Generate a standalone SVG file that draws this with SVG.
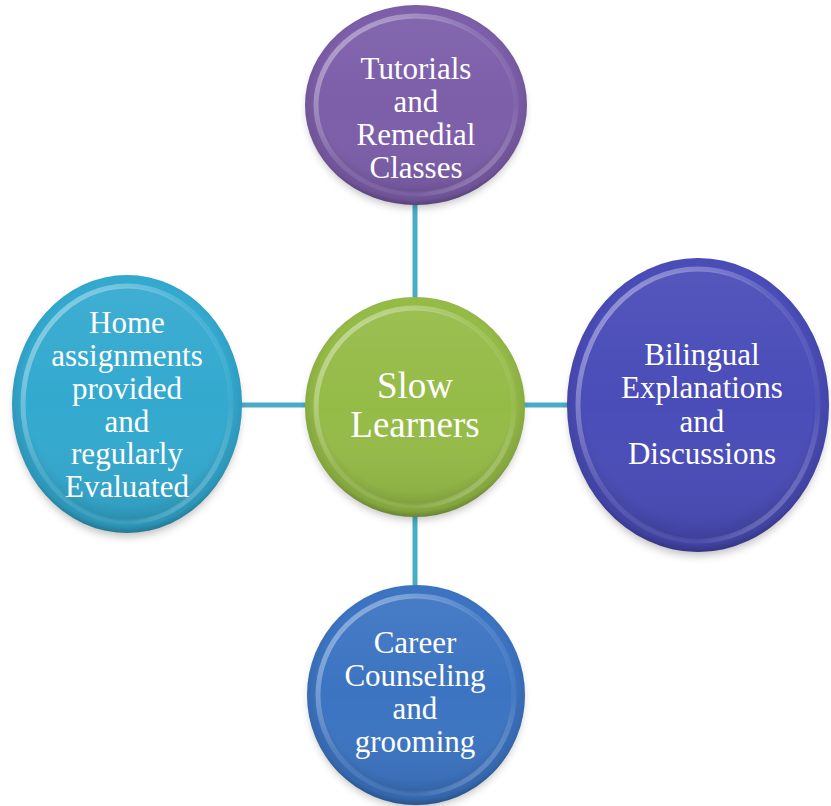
<svg xmlns="http://www.w3.org/2000/svg" width="831" height="806" viewBox="0 0 831 806">
<style>
.lbl{font-family:"Liberation Serif","Times New Roman",serif;fill:#ffffff;text-anchor:middle;font-size:31px}
.big{font-size:37px}
.conn{stroke:#4bacc6;stroke-width:5;fill:none}
.edge{fill:url(#edgeShade)}
.rim{fill:none;stroke:url(#rimLight);stroke-width:5}
.inner{fill:url(#innerShade)}
.shadow{fill:#000;opacity:0.28;filter:url(#blur)}
</style>
<defs>
<filter id="blur" x="-20%" y="-20%" width="140%" height="140%"><feGaussianBlur stdDeviation="5"/></filter>
<radialGradient id="edgeShade" cx="0.5" cy="0.45" r="0.55">
<stop offset="0.8" stop-color="#000" stop-opacity="0"/>
<stop offset="0.95" stop-color="#000" stop-opacity="0.12"/>
<stop offset="1" stop-color="#000" stop-opacity="0.3"/>
</radialGradient>
<linearGradient id="rimLight" x1="0" y1="0" x2="1" y2="1">
<stop offset="0" stop-color="#fff" stop-opacity="0.5"/>
<stop offset="0.45" stop-color="#fff" stop-opacity="0.12"/>
<stop offset="0.75" stop-color="#fff" stop-opacity="0.05"/>
<stop offset="1" stop-color="#fff" stop-opacity="0.4"/>
</linearGradient>
<linearGradient id="innerShade" x1="0" y1="0" x2="0" y2="1">
<stop offset="0" stop-color="#fff" stop-opacity="0.06"/>
<stop offset="0.5" stop-color="#fff" stop-opacity="0"/>
<stop offset="1" stop-color="#000" stop-opacity="0.08"/>
</linearGradient>
</defs>
<rect width="831" height="806" fill="#ffffff"/>
<g id="connectors">
<line class="conn" x1="415" y1="200" x2="415" y2="300"/>
<line class="conn" x1="415" y1="515" x2="415" y2="590"/>
<line class="conn" x1="238" y1="405" x2="308" y2="405"/>
<line class="conn" x1="522" y1="405" x2="572" y2="405"/>
</g>
<g id="n-top">
<ellipse class="shadow" cx="416" cy="110" rx="108" ry="97"/>
<ellipse cx="416" cy="105" rx="111" ry="100" fill="#7c5ea9"/>
<ellipse class="edge" cx="416" cy="105" rx="111" ry="100"/>
<ellipse class="inner" cx="416" cy="105" rx="99" ry="88"/>
<ellipse class="rim" cx="416" cy="105" rx="100" ry="89"/>
<text class="lbl" x="416" y="79">Tutorials</text>
<text class="lbl" x="416" y="112">and</text>
<text class="lbl" x="416" y="145">Remedial</text>
<text class="lbl" x="416" y="178">Classes</text>
</g>
<g id="n-left">
<ellipse class="shadow" cx="127" cy="410" rx="112" ry="126"/>
<ellipse cx="127" cy="404" rx="115" ry="129" fill="#33a9cf"/>
<ellipse class="edge" cx="127" cy="404" rx="115" ry="129"/>
<ellipse class="inner" cx="127" cy="404" rx="103" ry="117"/>
<ellipse class="rim" cx="127" cy="404" rx="104" ry="118"/>
<text class="lbl" x="127" y="333">Home</text>
<text class="lbl" x="127" y="366">assignments</text>
<text class="lbl" x="127" y="399">provided</text>
<text class="lbl" x="127" y="432">and</text>
<text class="lbl" x="127" y="464">regularly</text>
<text class="lbl" x="127" y="497">Evaluated</text>
</g>
<g id="n-right">
<ellipse class="shadow" cx="698" cy="411" rx="128" ry="144"/>
<ellipse cx="698" cy="405" rx="131" ry="147" fill="#4a4cb8"/>
<ellipse class="edge" cx="698" cy="405" rx="131" ry="147"/>
<ellipse class="inner" cx="698" cy="405" rx="119" ry="135"/>
<ellipse class="rim" cx="698" cy="405" rx="120" ry="136"/>
<text class="lbl" x="702" y="365">Bilingual</text>
<text class="lbl" x="702" y="398">Explanations</text>
<text class="lbl" x="702" y="432">and</text>
<text class="lbl" x="702" y="464">Discussions</text>
</g>
<g id="n-bottom">
<ellipse class="shadow" cx="416" cy="700" rx="106" ry="107"/>
<ellipse cx="416" cy="695" rx="109" ry="110" fill="#3c74c2"/>
<ellipse class="edge" cx="416" cy="695" rx="109" ry="110"/>
<ellipse class="inner" cx="416" cy="695" rx="97" ry="98"/>
<ellipse class="rim" cx="416" cy="695" rx="98" ry="99"/>
<text class="lbl" x="415" y="653">Career</text>
<text class="lbl" x="415" y="686">Counseling</text>
<text class="lbl" x="415" y="719">and</text>
<text class="lbl" x="415" y="752">grooming</text>
</g>
<g id="n-center">
<ellipse class="shadow" cx="415" cy="412" rx="107" ry="107"/>
<ellipse cx="415" cy="407" rx="110" ry="110" fill="#95bb47"/>
<ellipse class="edge" cx="415" cy="407" rx="110" ry="110"/>
<ellipse class="inner" cx="415" cy="407" rx="98" ry="98"/>
<ellipse class="rim" cx="415" cy="407" rx="99" ry="99"/>
<text class="lbl big" x="415" y="398">Slow</text>
<text class="lbl big" x="415" y="437">Learners</text>
</g>
</svg>
